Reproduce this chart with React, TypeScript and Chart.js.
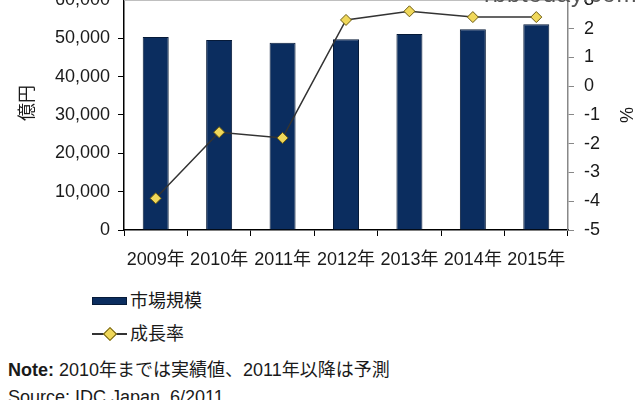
import React, { useEffect, useRef } from "react";
import { Chart, registerables } from "chart.js";

Chart.register(...registerables);

const categories = ["2009年", "2010年", "2011年", "2012年", "2013年", "2014年", "2015年"];
const marketSize = [50300, 49500, 48800, 49700, 51100, 52300, 53600];
const growthRate = [-3.9, -1.6, -1.8, 2.3, 2.6, 2.4, 2.4];
const leftTitle = "億円";
const rightTitle = "%";
const barLabel = "市場規模";
const lineLabel = "成長率";
const noteLabel = "Note:";
const noteText = "2010年までは実績値、2011年以降は予測";
const sourceText = "Source: IDC Japan, 6/2011";
const watermark = "rbbtoday.com";

const FONT = "'Liberation Sans', Arial, 'Noto Sans CJK JP', sans-serif";
const NAVY = "#0b2d5f";
const YELLOW = "#f0d85a";

const topBorder = {
  id: "topBorder",
  afterDraw(chart: any) {
    const { ctx, chartArea } = chart;
    ctx.save();
    ctx.strokeStyle = "#b0b0b0";
    ctx.lineWidth = 1;
    ctx.beginPath();
    ctx.moveTo(chartArea.left, chartArea.top + 0.5);
    ctx.lineTo(chartArea.right, chartArea.top + 0.5);
    ctx.stroke();
    ctx.restore();
  },
};

export default function App() {
  const ref = useRef<HTMLCanvasElement>(null);

  useEffect(() => {
    if (!ref.current) return;
    Chart.defaults.font.family = FONT;
    Chart.defaults.color = "#1a1a1a";
    const chart = new Chart(ref.current, {
      type: "bar",
      data: {
        labels: categories,
        datasets: [
          {
            type: "line",
            label: lineLabel,
            data: growthRate,
            yAxisID: "y1",
            borderColor: "#333333",
            borderWidth: 1.5,
            pointStyle: "rectRot",
            pointRadius: 5.5,
            pointBackgroundColor: YELLOW,
            pointBorderColor: "#6b5a10",
            pointBorderWidth: 1,
            tension: 0,
            order: 0,
          } as any,
          {
            type: "bar",
            label: barLabel,
            data: marketSize,
            yAxisID: "y",
            backgroundColor: NAVY,
            borderColor: "#061a38",
            borderWidth: 1,
            categoryPercentage: 1,
            barPercentage: 0.41,
            order: 1,
          } as any,
        ],
      },
      options: {
        animation: false,
        responsive: false,
        maintainAspectRatio: false,
        layout: { padding: { top: 0, left: 0, right: 0, bottom: 0 } },
        plugins: {
          legend: { display: false },
          tooltip: { enabled: false },
        },
        scales: {
          x: {
            grid: {
              offset: true,
              drawOnChartArea: false,
              drawTicks: true,
              tickLength: 6,
              color: "#000",
            },
            border: { color: "#000", width: 1.5 },
            ticks: { font: { size: 18 }, padding: 13, maxRotation: 0, autoSkip: false },
            afterFit: (s: any) => {
              s.height = 58;
            },
          },
          y: {
            position: "left",
            min: 0,
            max: 60000,
            grid: { drawOnChartArea: false, tickLength: 6, color: "#000" },
            border: { color: "#000", width: 1.5 },
            ticks: { stepSize: 10000, font: { size: 18 }, padding: 8 },
            afterFit: (s: any) => {
              s.width = 124;
            },
          },
          y1: {
            position: "right",
            min: -5,
            max: 3,
            grid: { drawOnChartArea: false, tickLength: 6, color: "#888" },
            border: { color: "#888", width: 1.5 },
            ticks: { stepSize: 1, font: { size: 18 }, padding: 10 },
            title: {
              display: true,
              text: rightTitle,
              font: { size: 18 },
              padding: { top: 4, bottom: 0 },
            },
            afterFit: (s: any) => {
              s.width = 72;
            },
          },
        },
      },
      plugins: [topBorder],
    });
    return () => chart.destroy();
  }, []);

  const text: React.CSSProperties = {
    position: "absolute",
    fontFamily: FONT,
    fontSize: 18,
    color: "#1a1a1a",
    whiteSpace: "nowrap",
    lineHeight: "22px",
  };

  return (
    <div
      style={{
        position: "absolute",
        left: 0,
        top: 0,
        width: 640,
        height: 400,
        overflow: "hidden",
        background: "#fff",
      }}
    >
      <canvas
        ref={ref}
        width={640}
        height={309}
        style={{ position: "absolute", left: 0, top: -21, width: 640, height: 309 }}
      />
      <div
        style={{
          ...text,
          left: 27 - 30,
          top: 103 - 11,
          width: 60,
          textAlign: "center",
          transform: "rotate(-90deg)",
        }}
      >
        {leftTitle}
      </div>
      <div
        style={{
          ...text,
          left: 484,
          top: -17,
          fontSize: 24,
          color: "#555",
          letterSpacing: 0.8,
          background: "transparent",
        }}
      >
        {watermark}
      </div>
      {/* legend */}
      <div
        style={{
          position: "absolute",
          left: 92,
          top: 297,
          width: 35,
          height: 8,
          background: NAVY,
          border: "1px solid #061a38",
          boxSizing: "border-box",
        }}
      />
      <div style={{ ...text, left: 130, top: 290 }}>{barLabel}</div>
      <div
        style={{
          position: "absolute",
          left: 92,
          top: 333,
          width: 35,
          height: 1.5,
          background: "#333",
        }}
      />
      <div
        style={{
          position: "absolute",
          left: 105,
          top: 329,
          width: 8,
          height: 8,
          background: YELLOW,
          border: "1px solid #6b5a10",
          transform: "rotate(45deg)",
        }}
      />
      <div style={{ ...text, left: 130, top: 323 }}>{lineLabel}</div>
      {/* note */}
      <div style={{ ...text, left: 8, top: 359, fontWeight: "bold" }}>{noteLabel}</div>
      <div style={{ ...text, left: 59, top: 359 }}>{noteText}</div>
      <div style={{ ...text, left: 8, top: 386 }}>{sourceText}</div>
    </div>
  );
}
